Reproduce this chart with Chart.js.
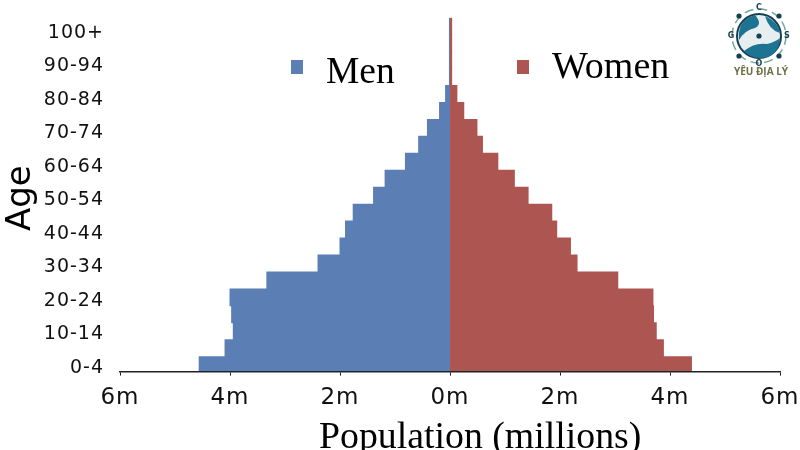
<!DOCTYPE html>
<html>
<head>
<meta charset="utf-8">
<style>
  html, body { margin: 0; padding: 0; background: #fff; }
  canvas { display: block; }
</style>
<script src="https://cdn.jsdelivr.net/npm/chart.js@4"></script>
</head>
<body>
<canvas id="pyramid" width="800" height="450"></canvas>
<script>
var ageGroups = ["0-4", "5-9", "10-14", "15-19", "20-24", "25-29", "30-34", "35-39", "40-44", "45-49",
  "50-54", "55-59", "60-64", "65-69", "70-74", "75-79", "80-84", "85-89", "90-94", "95-99", "100+"];
var men = [4.56, 4.09, 3.94, 3.97, 4.0, 3.33, 2.4, 2.0, 1.9, 1.76, 1.39, 1.18, 0.81, 0.57, 0.41, 0.19, 0.08, 0.01, 0.01, 0.01, 0.01];
var women = [4.39, 3.88, 3.75, 3.7, 3.69, 3.05, 2.31, 2.19, 1.94, 1.85, 1.42, 1.17, 0.87, 0.59, 0.49, 0.25, 0.125, 0.03, 0.03, 0.03, 0.03];
var populationTicks = [-6, -4, -2, 0, 2, 4, 6];

var BLUE = "#5b7eb5";
var RED = "#ad5651";
var AXIS = "#1f2226";
var SANS = "'DejaVu Sans'";
var SERIF = "'Liberation Serif'";

// Data rows are read on an index scale so the first band can be cut by the axis,
// as it is in the source. Age labels run on a slightly tighter pitch than the bars.
function ageTickPosition(rowIndex) {
  return rowIndex * 0.9885 - 0.15;
}

function rowPoints(values, sign) {
  return values.map(function (v, i) { return { x: sign * v, y: i }; });
}

// Titles and legend sit off-centre in the source, so they get fixed positions.
var annotationsPlugin = {
  id: "annotations",
  afterDraw: function (chart) {
    var ctx = chart.ctx;
    ctx.save();
    ctx.letterSpacing = "0px";
    ctx.fillStyle = "#000";
    ctx.textBaseline = "alphabetic";
    ctx.textAlign = "left";

    ctx.font = "37.5px " + SERIF;
    ctx.fillText(chart.data.datasets[0].label, 326, 82.7);
    ctx.font = "38px " + SERIF;
    ctx.fillText(chart.data.datasets[1].label, 552, 78.3);
    ctx.fillStyle = chart.data.datasets[0].backgroundColor;
    ctx.fillRect(291, 60, 12, 14);
    ctx.fillStyle = chart.data.datasets[1].backgroundColor;
    ctx.fillRect(517, 60, 12, 14);

    ctx.fillStyle = "#000";
    ctx.font = "37.8px " + SERIF;
    ctx.fillText("Population (millions)", 319, 448);

    ctx.save();
    ctx.translate(30, 231);
    ctx.rotate(-Math.PI / 2);
    ctx.font = "34px " + SANS;
    ctx.fillText("Age", 0, 0);
    ctx.restore();

    drawLogo(ctx);
    ctx.restore();
  },
};

function drawLogo(ctx) {
  var cx = 759, cy = 36;
  ctx.save();
  ctx.strokeStyle = "#6fa89c";
  ctx.lineWidth = 1.5;
  ctx.setLineDash([9, 5]);
  ctx.beginPath();
  ctx.arc(cx, cy, 27, 0, Math.PI * 2);
  ctx.stroke();
  ctx.setLineDash([]);

  ctx.fillStyle = "#e6eef0";
  ctx.strokeStyle = "#173f52";
  ctx.lineWidth = 2;
  ctx.beginPath();
  ctx.arc(cx, cy, 22, 0, Math.PI * 2);
  ctx.fill();
  ctx.stroke();

  // land masses, top left and bottom of the globe
  ctx.fillStyle = "#1c7392";
  ctx.beginPath();
  ctx.moveTo(cx - 20, cy + 4);
  ctx.quadraticCurveTo(cx - 22, cy - 16, cx - 4, cy - 21);
  ctx.quadraticCurveTo(cx + 4, cy - 12, cx - 4, cy - 8);
  ctx.quadraticCurveTo(cx - 14, cy - 6, cx - 20, cy + 4);
  ctx.fill();
  ctx.beginPath();
  ctx.moveTo(cx - 15, cy + 15);
  ctx.quadraticCurveTo(cx - 4, cy + 6, cx + 8, cy + 8);
  ctx.quadraticCurveTo(cx + 16, cy + 6, cx + 21, cy + 2);
  ctx.quadraticCurveTo(cx + 20, cy + 22, cx, cy + 22);
  ctx.quadraticCurveTo(cx - 9, cy + 22, cx - 15, cy + 15);
  ctx.fill();
  ctx.beginPath();
  ctx.moveTo(cx + 6, cy - 20);
  ctx.quadraticCurveTo(cx + 20, cy - 14, cx + 21, cy - 3);
  ctx.quadraticCurveTo(cx + 10, cy - 6, cx + 6, cy - 20);
  ctx.fill();

  ctx.fillStyle = "#173f52";
  [[-20, -20], [20, -20], [-20, 20], [20, 20], [0, 0]].forEach(function (p) {
    ctx.beginPath();
    ctx.arc(cx + p[0], cy + p[1], 2.6, 0, Math.PI * 2);
    ctx.fill();
  });

  ctx.font = "bold 8px " + SANS;
  ctx.textAlign = "center";
  ctx.textBaseline = "middle";
  ctx.fillText("C", cx, cy - 28);
  ctx.fillText("G", cx - 28, cy);
  ctx.fillText("S", cx + 28, cy);
  ctx.fillText("O", cx, cy + 28);

  ctx.fillStyle = "#6c7044";
  ctx.font = "bold 10px 'Open Sans'";
  ctx.textBaseline = "alphabetic";
  ctx.fillText("YÊU ĐỊA LÝ", 761, 75);
  ctx.restore();
}

new Chart(document.getElementById("pyramid"), {
  type: "bar",
  data: {
    datasets: [
      { label: "Men", data: rowPoints(men, -1), backgroundColor: BLUE, borderWidth: 0, inflateAmount: 0.5 },
      { label: "Women", data: rowPoints(women, 1), backgroundColor: RED, borderWidth: 0, inflateAmount: 0.5 },
    ],
  },
  options: {
    indexAxis: "y",
    responsive: false,
    animation: false,
    layout: { padding: { top: 17.7, right: 20, left: 0, bottom: 0 } },
    datasets: { bar: { categoryPercentage: 1, barPercentage: 1, grouped: false } },
    plugins: { legend: { display: false }, tooltip: { enabled: false } },
    scales: {
      x: {
        type: "linear",
        min: -6,
        max: 6,
        afterBuildTicks: function (scale) {
          scale.ticks = populationTicks.map(function (v) { return { value: v }; });
        },
        afterFit: function (scale) {
          scale.height = 78.4;
          scale.paddingLeft = 0;
          scale.paddingRight = 0;
        },
        grid: { drawOnChartArea: false, color: AXIS, tickLength: 4, lineWidth: 1 },
        border: { color: AXIS, width: 1.5, z: 1 },
        ticks: {
          color: "#111",
          padding: 9,
          maxRotation: 0,
          autoSkip: false,
          font: { family: SANS, size: 23 },
          callback: function (v) { return Math.abs(v) + "m"; },
        },
      },
      y: {
        type: "linear",
        offset: false,
        min: -0.38,
        max: 20.5,
        afterBuildTicks: function (scale) {
          var ticks = [];
          for (var i = 0; i < ageGroups.length; i += 2) ticks.push({ value: ageTickPosition(i) });
          scale.ticks = ticks;
        },
        afterFit: function (scale) {
          scale.width = 120;
          scale.paddingTop = 0;
          scale.paddingBottom = 0;
        },
        afterTickToLabelConversion: function (scale) {
          scale.ticks.forEach(function (t, i) { t.label = ageGroups[i * 2]; });
        },
        grid: { display: false, drawTicks: false },
        border: { display: false },
        ticks: {
          color: "#111",
          padding: 16,
          autoSkip: false,
          font: { family: SANS, size: 19 },
        },
      },
    },
  },
  plugins: [
    { id: "tickSpacing", beforeDraw: function (chart) { chart.ctx.letterSpacing = "1px"; } },
    annotationsPlugin,
  ],
});
</script>
</body>
</html>
